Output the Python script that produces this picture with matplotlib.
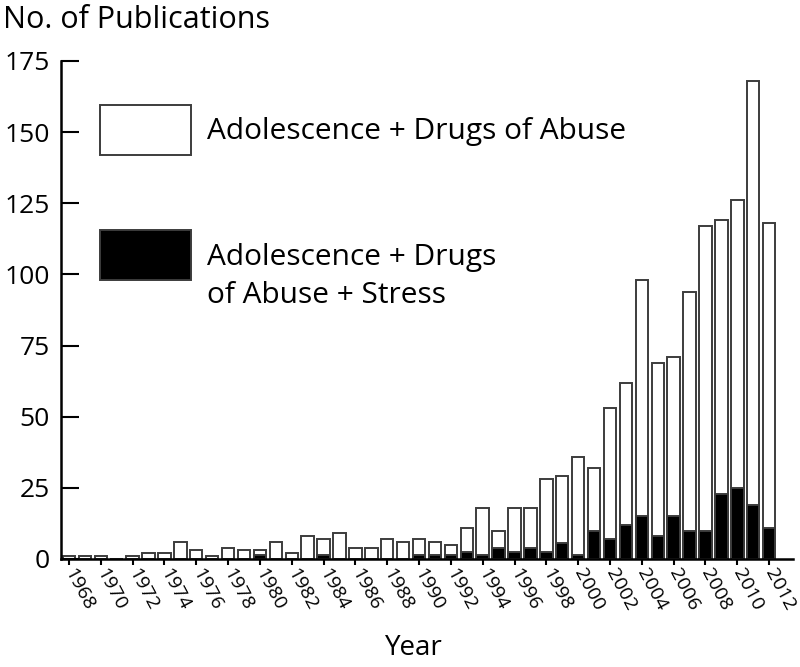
import numpy as np
import matplotlib.pyplot as plt

plt.rcParams['font.family'] = ['Open Sans', 'DejaVu Sans']

years = list(range(1968, 2013))
# Adolescence + Drugs of Abuse (total)
total = [1, 1, 1, 0, 1, 2, 2, 6, 3, 1, 4, 3, 3, 6, 2, 8, 7, 9, 4, 4,
         7, 6, 7, 6, 5, 11, 18, 10, 18, 18, 28, 29, 36, 32, 53, 62, 98, 69, 71, 94,
         117, 119, 126, 168, 118]
# Adolescence + Drugs of Abuse + Stress
stress = [0, 0, 0, 0, 0, 0, 0, 0, 0, 0, 0, 0, 1.5, 0, 0, 0, 1.5, 0, 0, 0,
          0, 0, 1.5, 1.5, 1.5, 2.5, 1.5, 4, 2.5, 4, 2.5, 5.5, 1.5, 10, 7, 12, 15, 8, 15, 10,
          10, 23, 25, 19, 11]
year_ticks = list(range(1968, 2013, 2))
y_ticks = [0, 25, 50, 75, 100, 125, 150, 175]

fig = plt.figure(figsize=(8, 6.67), dpi=100)
ax = fig.add_axes([61 / 800, 1 - 559 / 667, 732 / 800, 498 / 667])

edge = '#3c3c3c'
b1 = ax.bar(years, total, width=0.78, color='white', edgecolor=edge, linewidth=1.4,
            label='Adolescence + Drugs of Abuse')
b2 = ax.bar(years, stress, width=0.78, color='black', edgecolor=edge, linewidth=1.4,
            label='Adolescence + Drugs')

ax.set_xlim(1967.5, 2013.5)
ax.set_ylim(0, 175)
ax.set_yticks(y_ticks)
ax.set_xticks(year_ticks)
ax.set_xticklabels([str(y) for y in year_ticks], rotation=-62, ha='left', va='center',
                   rotation_mode='anchor', fontsize=14)
ax.tick_params(axis='y', direction='in', length=13, width=1.5, labelsize=19, pad=8)
ax.tick_params(axis='x', direction='out', length=4, width=1.5, pad=4)

for s in ['top', 'right']:
    ax.spines[s].set_visible(False)
ax.spines['left'].set_linewidth(1.8)
ax.spines['bottom'].set_linewidth(1.8)

ax.set_xlabel('Year', fontsize=20, labelpad=14)
ax.xaxis.label.set_x(0.482)
fig.text(0.004, 1 - 20 / 667, 'No. of Publications', fontsize=22, va='center', ha='left')

ax.legend(handles=[b1, b2], loc='upper left', bbox_to_anchor=(0.016, 0.966), frameon=False,
          fontsize=21.5, handlelength=3.05, handleheight=2.2, handletextpad=0.55,
          labelspacing=2.53)
# second line of the black-bar legend label sits below the swatch, as in the original
fig.text(207 / 800, 1 - 295 / 667, 'of Abuse + Stress', fontsize=21.5, va='center', ha='left')

fig.savefig('out.png', dpi=100)
